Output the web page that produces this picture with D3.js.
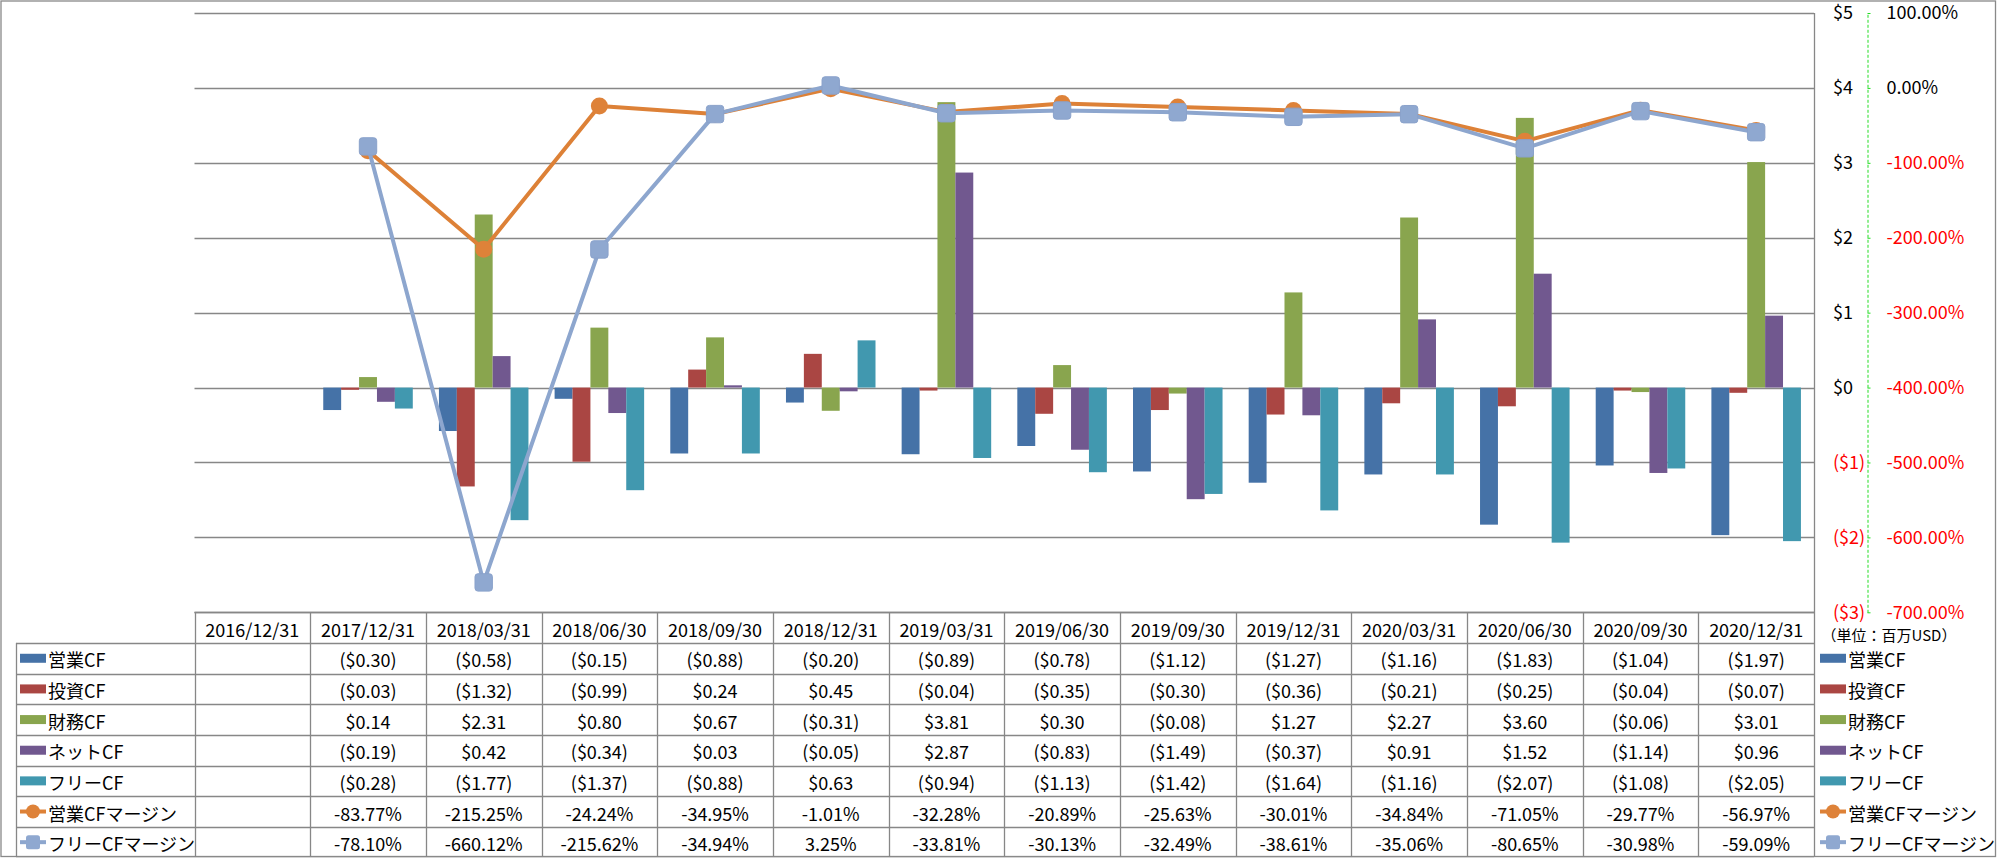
<!DOCTYPE html>
<html>
<head>
<meta charset="utf-8">
<script src="https://cdn.jsdelivr.net/npm/d3@7"></script>
<style>
  html, body { margin: 0; padding: 0; background: #fff; }
  svg { display: block; }
  text { font-family: "Noto Sans CJK JP", "Noto Sans", sans-serif; }
</style>
</head>
<body>
<svg id="chart" width="1997" height="858"></svg>
<script>
// ---------- DATA ----------
const dates = ["2016/12/31","2017/12/31","2018/03/31","2018/06/30","2018/09/30","2018/12/31","2019/03/31","2019/06/30","2019/09/30","2019/12/31","2020/03/31","2020/06/30","2020/09/30","2020/12/31"];
const operatingCF = [null, -0.30, -0.58, -0.15, -0.88, -0.20, -0.89, -0.78, -1.12, -1.27, -1.16, -1.83, -1.04, -1.97];
const investingCF = [null, -0.03, -1.32, -0.99, 0.24, 0.45, -0.04, -0.35, -0.30, -0.36, -0.21, -0.25, -0.04, -0.07];
const financingCF = [null, 0.14, 2.31, 0.80, 0.67, -0.31, 3.81, 0.30, -0.08, 1.27, 2.27, 3.60, -0.06, 3.01];
const netCF = [null, -0.19, 0.42, -0.34, 0.03, -0.05, 2.87, -0.83, -1.49, -0.37, 0.91, 1.52, -1.14, 0.96];
const freeCF = [null, -0.28, -1.77, -1.37, -0.88, 0.63, -0.94, -1.13, -1.42, -1.64, -1.16, -2.07, -1.08, -2.05];
const operatingMargin = [null, -83.77, -215.25, -24.24, -34.95, -1.01, -32.28, -20.89, -25.63, -30.01, -34.84, -71.05, -29.77, -56.97];
const freeMargin = [null, -78.10, -660.12, -215.62, -34.94, 3.25, -33.81, -30.13, -32.49, -38.61, -35.06, -80.65, -30.98, -59.09];
const barSeriesNames = ["営業CF", "投資CF", "財務CF", "ネットCF", "フリーCF"];
const lineSeriesNames = ["営業CFマージン", "フリーCFマージン"];
const dollarTicks = [5, 4, 3, 2, 1, 0, -1, -2, -3];
const percentTicks = [100, 0, -100, -200, -300, -400, -500, -600, -700];
const unitLabel = "（単位：百万USD）";

// ---------- STYLE / LAYOUT ----------
const barValues = [operatingCF, investingCF, financingCF, netCF, freeCF];
const barColors = ["#4572A7", "#AA4643", "#89A54E", "#71588F", "#4198AF"];
const lineValues = [operatingMargin, freeMargin];
const lineColors = ["#DD8137", "#8DA6CE"];
const markerFill = ["#DE8239", "#8FA8D0"];

const plotL = 194.5, plotR = 1814, plotT = 13, plotB = 612.3;
const rowH = 30.65;
const labelColL = 16;
const gridColor = "#878787";
const FS = 18;

const svg = d3.select("#chart");

// outer border
svg.append("rect").attr("x", 1).attr("y", 1).attr("width", 1994.5).attr("height", 855.5)
  .attr("fill", "#fff").attr("stroke", "#898989").attr("stroke-width", 1.3);

const x0 = d3.scaleBand().domain(dates).range([plotL, plotR]).paddingInner(0).paddingOuter(0);
const x1 = d3.scaleBand().domain(barSeriesNames).range([0, x0.bandwidth()]).paddingInner(0).paddingOuter(0.73);
const y = d3.scaleLinear().domain([-3, 5]).range([plotB, plotT]);
const y2 = d3.scaleLinear().domain([-700, 100]).range([plotB, plotT]);

// gridlines
svg.append("g").selectAll("line").data(dollarTicks).join("line")
  .attr("x1", plotL).attr("x2", plotR)
  .attr("y1", d => Math.round(y(d)) + 0.5).attr("y2", d => Math.round(y(d)) + 0.5)
  .attr("stroke", gridColor).attr("stroke-width", 1.3);

// bars
const barG = svg.append("g");
barSeriesNames.forEach((name, si) => {
  barG.append("g").selectAll("rect")
    .data(dates.map((d, i) => ({ d, v: barValues[si][i] })).filter(o => o.v !== null))
    .join("rect")
    .attr("x", o => x0(o.d) + x1(name))
    .attr("width", x1.bandwidth())
    .attr("y", o => y(Math.max(0, o.v)))
    .attr("height", o => Math.abs(y(o.v) - y(0)))
    .attr("fill", barColors[si]);
});

// lines
const cx = d => x0(d) + x0.bandwidth() / 2;
lineSeriesNames.forEach((name, li) => {
  const pts = dates.map((d, i) => ({ d, v: lineValues[li][i] }));
  const line = d3.line().defined(o => o.v !== null).x(o => cx(o.d)).y(o => y2(o.v));
  const g = svg.append("g");
  g.append("path").datum(pts).attr("d", line).attr("fill", "none")
    .attr("stroke", lineColors[li]).attr("stroke-width", 4).attr("stroke-linejoin", "round");
  const valid = pts.filter(o => o.v !== null);
  if (li === 0) {
    g.selectAll("circle").data(valid).join("circle")
      .attr("cx", o => cx(o.d)).attr("cy", o => y2(o.v)).attr("r", 8.5)
      .attr("fill", markerFill[li]);
  } else {
    g.selectAll("rect").data(valid).join("rect")
      .attr("x", o => cx(o.d) - 8.7).attr("y", o => y2(o.v) - 8.7)
      .attr("width", 17.4).attr("height", 17.4).attr("rx", 3)
      .attr("fill", markerFill[li]).attr("stroke", "#8AA2CB").attr("stroke-width", 1);
  }
});

// right vertical border of plot/table
svg.append("line").attr("x1", plotR + 0.5).attr("x2", plotR + 0.5).attr("y1", plotT).attr("y2", 857)
  .attr("stroke", gridColor).attr("stroke-width", 1.3);

// primary axis labels
const fmtMoney = v => v < 0 ? `($${Math.abs(v)})` : `$${v}`;
const axis1 = d3.axisRight(y).tickValues(dollarTicks).tickSize(0).tickPadding(19).tickFormat(fmtMoney);
const a1 = svg.append("g").attr("transform", `translate(${plotR},0)`).call(axis1);
a1.select(".domain").remove();
a1.selectAll("text").attr("font-size", FS).attr("font-family", "Noto Sans CJK JP")
  .attr("fill", d => d < 0 ? "#FF0000" : "#000");

// secondary axis
const fmtPct = v => v.toFixed(2) + "%";
const axis2 = d3.axisRight(y2).tickValues(percentTicks).tickSize(3).tickSizeOuter(0).tickPadding(16).tickFormat(fmtPct);
const a2 = svg.append("g").attr("transform", `translate(1867.5,0)`).call(axis2);
a2.select(".domain").attr("stroke", "#22DD22").attr("stroke-dasharray", "3,2").attr("stroke-width", 1);
a2.selectAll(".tick line").attr("stroke", "#22DD22");
a2.selectAll("text").attr("font-size", FS).attr("font-family", "Noto Sans CJK JP")
  .attr("fill", d => d < 0 ? "#FF0000" : "#000");

// unit label
svg.append("text").attr("x", 1889).attr("y", 634).attr("text-anchor", "middle")
  .attr("dominant-baseline", "central").attr("font-size", 15).text(unitLabel);

// ---------- DATA TABLE ----------
const tableTop = plotB;
const tbl = svg.append("g");
const rowsAll = barSeriesNames.length + lineSeriesNames.length;
const rowY = r => tableTop + rowH * (r + 1); // top of data row r
const tableBottom = 856.8;
// horizontal lines
tbl.append("line").attr("x1", plotL).attr("x2", plotR).attr("y1", Math.round(tableTop) + 0.5).attr("y2", Math.round(tableTop) + 0.5)
  .attr("stroke", gridColor).attr("stroke-width", 1.3);
for (let r = 0; r <= rowsAll; r++) {
  const yy = Math.round(rowY(r)) + 0.5;
  tbl.append("line").attr("x1", labelColL).attr("x2", plotR).attr("y1", yy).attr("y2", yy)
    .attr("stroke", gridColor).attr("stroke-width", 1.3);
}
// vertical lines
tbl.append("line").attr("x1", labelColL + 0.5).attr("x2", labelColL + 0.5).attr("y1", rowY(0)).attr("y2", tableBottom)
  .attr("stroke", gridColor).attr("stroke-width", 1.3);
dates.forEach(d => {
  const xx = Math.round(x0(d)) + 0.5;
  tbl.append("line").attr("x1", xx).attr("x2", xx).attr("y1", tableTop).attr("y2", tableBottom)
    .attr("stroke", gridColor).attr("stroke-width", 1.3);
});
// header
tbl.selectAll("text.hdr").data(dates).join("text").attr("class", "hdr")
  .attr("x", d => cx(d)).attr("y", tableTop + rowH / 2 + 1)
  .attr("text-anchor", "middle").attr("dominant-baseline", "central").attr("font-size", FS)
  .text(d => d);
// value rows
const fmtCell = v => v < 0 ? `($${Math.abs(v).toFixed(2)})` : `$${v.toFixed(2)}`;
barSeriesNames.forEach((name, si) => {
  tbl.append("g").selectAll("text").data(dates.map((d, i) => ({ d, v: barValues[si][i] })).filter(o => o.v !== null))
    .join("text").attr("x", o => cx(o.d)).attr("y", rowY(si) + rowH / 2 + 1)
    .attr("text-anchor", "middle").attr("dominant-baseline", "central").attr("font-size", FS)
    .text(o => fmtCell(o.v));
});
lineSeriesNames.forEach((name, li) => {
  const r = barSeriesNames.length + li;
  tbl.append("g").selectAll("text").data(dates.map((d, i) => ({ d, v: lineValues[li][i] })).filter(o => o.v !== null))
    .join("text").attr("x", o => cx(o.d)).attr("y", rowY(r) + rowH / 2 + 1)
    .attr("text-anchor", "middle").attr("dominant-baseline", "central").attr("font-size", FS)
    .text(o => o.v.toFixed(2) + "%");
});

// legend keys (left label column + right legend)
function drawKey(g, kx, cyy, idx) {
  if (idx < barSeriesNames.length) {
    g.append("rect").attr("x", kx).attr("y", cyy - 4.5).attr("width", 26).attr("height", 9).attr("fill", barColors[idx]);
  } else {
    const li = idx - barSeriesNames.length;
    g.append("line").attr("x1", kx).attr("x2", kx + 26).attr("y1", cyy).attr("y2", cyy)
      .attr("stroke", lineColors[li]).attr("stroke-width", 4);
    if (li === 0) {
      g.append("circle").attr("cx", kx + 13).attr("cy", cyy).attr("r", 7).attr("fill", markerFill[li]);
    } else {
      g.append("rect").attr("x", kx + 6).attr("y", cyy - 7).attr("width", 14).attr("height", 14).attr("rx", 2.5)
        .attr("fill", markerFill[li]);
    }
  }
}
const allNames = barSeriesNames.concat(lineSeriesNames);
allNames.forEach((name, i) => {
  const cyy = rowY(i) + rowH / 2;
  drawKey(tbl, 20, cyy, i);
  tbl.append("text").attr("x", 48).attr("y", cyy + 1).attr("dominant-baseline", "central")
    .attr("font-size", FS).text(name);
  drawKey(svg, 1820, cyy, i);
  svg.append("text").attr("x", 1848).attr("y", cyy + 1).attr("dominant-baseline", "central")
    .attr("font-size", FS).text(name);
});
</script>
</body>
</html>
